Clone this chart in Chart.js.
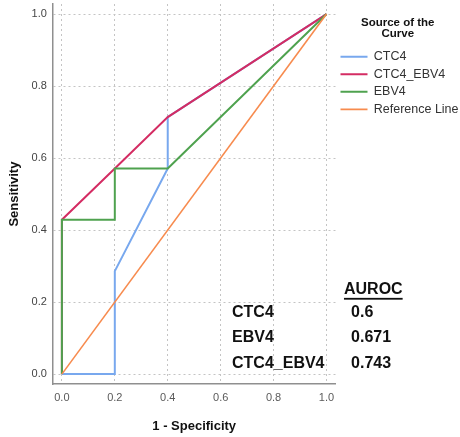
<!DOCTYPE html>
<html>
<head>
<meta charset="utf-8">
<script src="https://cdn.jsdelivr.net/npm/chart.js@4/dist/chart.umd.min.js"></script>
<style>
html,body{margin:0;padding:0;background:#fff;}
canvas{display:block;}
</style>
</head>
<body>
<canvas id="c" width="460" height="437"></canvas>
<script>
// ---- data ----
const seriesNames = ['CTC4', 'CTC4_EBV4', 'EBV4', 'Reference Line'];
const ctc4X = [0, 0.2, 0.2, 0.4, 0.4, 1];
const ctc4Y = [0, 0, 0.286, 0.571, 0.714, 1];
const comboX = [0, 0, 0.2, 0.4, 1];
const comboY = [0, 0.429, 0.571, 0.714, 1];
const ebv4X = [0, 0, 0.2, 0.2, 0.4, 1];
const ebv4Y = [0, 0.429, 0.429, 0.571, 0.571, 1];
const refX = [0, 1];
const refY = [0, 1];
const xTicks = [0, 0.2, 0.4, 0.6, 0.8, 1.0];
const yTicks = [0, 0.2, 0.4, 0.6, 0.8, 1.0];
const aurocTitle = 'AUROC';
const aurocNames = ['CTC4', 'EBV4', 'CTC4_EBV4'];
const aurocValues = ['0.6', '0.671', '0.743'];

const colors = ['#78a8ee', '#d42c63', '#4fa24f', '#f78b4e'];
const drawOrder = [4, 3, 2, 1]; // CTC4 at the bottom, reference line on top

function pts(xs, ys) { return xs.map((x, i) => ({x: x, y: ys[i]})); }

const allX = [ctc4X, comboX, ebv4X, refX];
const allY = [ctc4Y, comboY, ebv4Y, refY];
const datasets = seriesNames.map((name, i) => ({
  label: name,
  data: pts(allX[i], allY[i]),
  borderColor: colors[i],
  backgroundColor: colors[i],
  borderWidth: i === 3 ? 1.6 : 2,
  pointRadius: 0,
  showLine: true,
  tension: 0,
  order: drawOrder[i]
}));

const aurocPlugin = {
  id: 'auroc',
  afterDraw(chart) {
    const ctx = chart.ctx;
    const xs = chart.scales.x, ys = chart.scales.y;
    ctx.save();
    ctx.font = 'bold 16px "Liberation Sans", Arial, sans-serif';
    ctx.fillStyle = '#111';
    ctx.textBaseline = 'middle';
    ctx.textAlign = 'left';
    const nameX = xs.getPixelForValue(0.643);
    const valX = xs.getPixelForValue(1.093);
    const rowY = [0.170, 0.102, 0.030];
    aurocNames.forEach((n, i) => {
      const y = ys.getPixelForValue(rowY[i]);
      ctx.fillText(n, nameX, y);
      ctx.fillText(aurocValues[i], valX, y);
    });
    const tx = xs.getPixelForValue(1.066);
    const ty = ys.getPixelForValue(0.234);
    ctx.fillText(aurocTitle, tx, ty);
    const w = ctx.measureText(aurocTitle).width;
    ctx.fillRect(tx, ty + 8, w, 1.8);
    ctx.restore();
  }
};

function fixedTicks(arr) {
  return function(scale) { scale.ticks = arr.map(v => ({value: v})); };
}

new Chart(document.getElementById('c'), {
  type: 'scatter',
  data: { datasets: datasets },
  plugins: [aurocPlugin],
  options: {
    responsive: false,
    animation: false,
    devicePixelRatio: 1,
    layout: { padding: { top: 4, left: 0, right: 0, bottom: 0 } },
    plugins: {
      tooltip: { enabled: false },
      legend: {
        position: 'right',
        align: 'start',
        maxWidth: 124.5,
        title: {
          display: true,
          text: ['Source of the', 'Curve'],
          color: '#111',
          font: { family: '"Liberation Sans", Arial, sans-serif', size: 11.5, weight: 'bold', lineHeight: 0.9 },
          padding: { top: 13.25, bottom: 18 }
        },
        labels: {
          usePointStyle: true,
          pointStyle: 'line',
          pointStyleWidth: 27,
          padding: 5,
          color: '#333',
          sort: (a, b) => a.datasetIndex - b.datasetIndex,
          font: { family: '"Liberation Sans", Arial, sans-serif', size: 12.5 }
        }
      }
    },
    scales: {
      x: {
        type: 'linear',
        min: -0.034,
        max: 1.034,
        afterBuildTicks: fixedTicks(xTicks),
        ticks: {
          callback: v => Number(v).toFixed(1),
          color: '#5a5a5a',
          padding: 7,
          font: { family: '"Liberation Sans", Arial, sans-serif', size: 11 }
        },
        grid: { color: '#c4c4c4', lineWidth: 1, drawTicks: false },
        border: { display: true, color: '#8f8f8f', width: 1.5, dash: [2, 3] },
        title: {
          display: true,
          text: '1 - Specificity',
          color: '#111',
          font: { family: '"Liberation Sans", Arial, sans-serif', size: 13, weight: 'bold' },
          padding: { top: 7, bottom: 3 }
        }
      },
      y: {
        type: 'linear',
        min: -0.028,
        max: 1.028,
        afterBuildTicks: fixedTicks(yTicks),
        afterFit(scale) { scale.paddingTop = 0; scale.paddingBottom = 0; },
        ticks: {
          callback: v => Number(v).toFixed(1),
          color: '#444',
          padding: 6,
          font: { family: '"Liberation Sans", Arial, sans-serif', size: 11 }
        },
        grid: { color: '#c4c4c4', lineWidth: 1, drawTicks: false },
        border: { display: true, color: '#8f8f8f', width: 1.5, dash: [2, 3] },
        title: {
          display: true,
          text: 'Sensitivity',
          color: '#111',
          font: { family: '"Liberation Sans", Arial, sans-serif', size: 13, weight: 'bold' },
          padding: { top: 7, bottom: 3 }
        }
      }
    }
  }
});
</script>
</body>
</html>
